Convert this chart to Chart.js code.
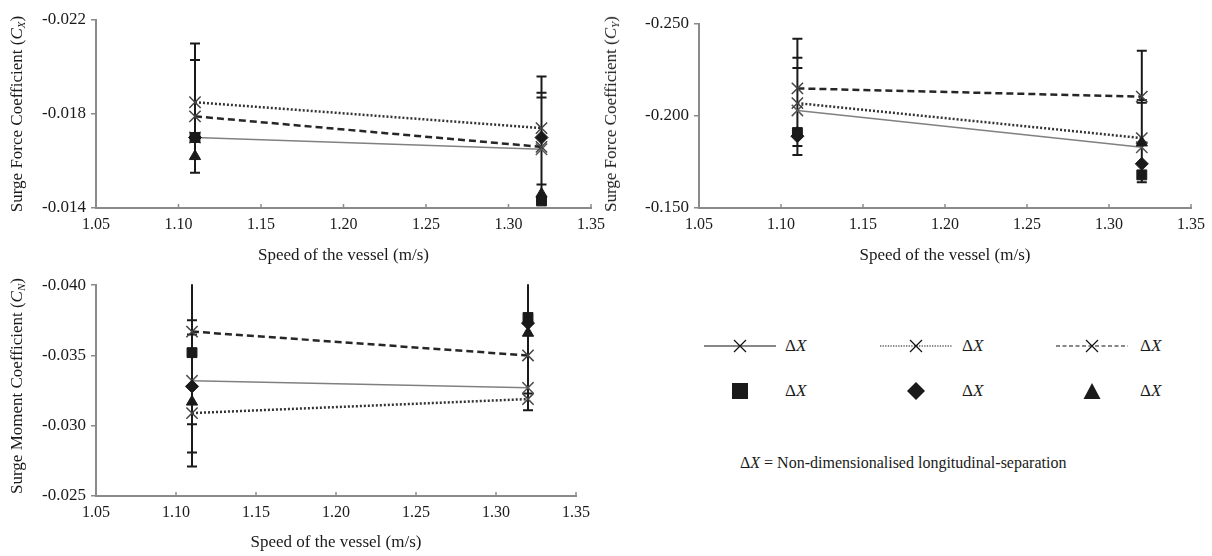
<!DOCTYPE html>
<html>
<head>
<meta charset="utf-8">
<script src="https://cdn.jsdelivr.net/npm/chart.js@4/dist/chart.umd.min.js"></script>
<style>
  html, body { margin: 0; padding: 0; background: #fff; }
  body { position: relative; width: 1212px; height: 556px; overflow: hidden;
         font-family: "Liberation Serif", "DejaVu Serif", serif; color: #1a1a1a; }
  canvas { position: absolute; }
  .ytitle { position: absolute; white-space: nowrap; font-size: 17px; line-height: 20px;
            transform: translate(-50%, -50%) rotate(-90deg); }
  .ytitle sub { font-size: 11px; vertical-align: -3px; line-height: 0; }
  .lg { position: absolute; white-space: nowrap; font-size: 17px; line-height: 20px; }
  .lgsym { position: absolute; }
</style>
</head>
<body>
<canvas id="cxChart" width="612" height="268" style="left:0;top:0"></canvas>
<canvas id="cyChart" width="612" height="268" style="left:600px;top:0"></canvas>
<canvas id="cnChart" width="612" height="286" style="left:0;top:270px"></canvas>

<div class="ytitle" style="left:17px;top:114px">Surge Force Coefficient (<i>C</i><sub><i>X</i></sub>)</div>
<div class="ytitle" style="left:611px;top:114px">Surge Force Coefficient (<i>C</i><sub><i>Y</i></sub>)</div>
<div class="ytitle" style="left:17px;top:386px">Surge Moment Coefficient (<i>C</i><sub><i>N</i></sub>)</div>

<div id="legend"></div>

<script>
// Vessel speeds (m/s) and axis tick values
const speeds = [1.11, 1.32];
const speedTicks = [1.05, 1.10, 1.15, 1.20, 1.25, 1.30, 1.35];

// Surge force coefficient C_X
const cxTicks = [-0.022, -0.018, -0.014];
const cxSolid = [-0.0170, -0.0165];
const cxDotted = [-0.0185, -0.0174];
const cxDashed = [-0.0179, -0.0166];
const cxSquare = [-0.0170, -0.0143];
const cxDiamond = [-0.0170, -0.0170];
const cxTriangle = [-0.0162, -0.0146];
const cxCapsLow = [-0.0210, -0.0203, -0.0155];
const cxCapsHigh = [-0.0196, -0.0189, -0.0187, -0.0150, -0.0143];

// Sway force coefficient C_Y
const cyTicks = [-0.250, -0.200, -0.150];
const cySolid = [-0.203, -0.183];
const cyDotted = [-0.207, -0.188];
const cyDashed = [-0.215, -0.2105];
const cySquare = [-0.191, -0.168];
const cyDiamond = [-0.189, -0.174];
const cyTriangle = [-0.191, -0.1855];
const cyCapsLow = [-0.242, -0.2317, -0.2261, -0.1837, -0.1788];
const cyCapsHigh = [-0.2355, -0.2087, -0.2072, -0.164];

// Yaw moment coefficient C_N
const cnTicks = [-0.040, -0.035, -0.030, -0.025];
const cnSolid = [-0.0332, -0.0327];
const cnDotted = [-0.0309, -0.0319];
const cnDashed = [-0.0367, -0.0350];
const cnSquare = [-0.0352, -0.0377];
const cnDiamond = [-0.0328, -0.0373];
const cnTriangle = [-0.0317, -0.0366];
const cnCapsLow = [-0.0405, -0.0375, -0.0365, -0.0301, -0.0281, -0.0271];
const cnCapsHigh = [-0.0405, -0.0323, -0.0311];

const FONT = '"Liberation Serif", "DejaVu Serif", serif';
const AXIS_GREY = '#8a8a8a';
const INK = '#1a1a1a';

// Vertical error bars: one shared stem per speed, with a cap at every bound
const errorBarPlugin = {
  id: 'errorBars',
  beforeDatasetsDraw(chart, args, opts) {
    const { ctx, chartArea: a, scales: { x, y } } = chart;
    ctx.save();
    ctx.beginPath();
    ctx.rect(a.left, a.top - 1, a.right - a.left, a.bottom - a.top + 1);
    ctx.clip();
    ctx.strokeStyle = INK;
    ctx.lineWidth = 2;
    for (const g of opts.groups) {
      const px = x.getPixelForValue(g.x);
      const ys = g.caps.map(v => y.getPixelForValue(v));
      ctx.beginPath();
      ctx.moveTo(px, Math.min(...ys));
      ctx.lineTo(px, Math.max(...ys));
      for (const py of ys) { ctx.moveTo(px - 5, py); ctx.lineTo(px + 5, py); }
      ctx.stroke();
    }
    ctx.restore();
  }
};

// Short inward tick marks along the speed axis
const innerTickPlugin = {
  id: 'innerTicks',
  afterDraw(chart) {
    const { ctx, scales: { x } } = chart;
    ctx.save();
    ctx.strokeStyle = AXIS_GREY;
    ctx.lineWidth = 1.5;
    ctx.beginPath();
    x.ticks.forEach((t, i) => {
      if (i === 0) return;
      const px = x.getPixelForValue(t.value);
      ctx.moveTo(px, x.top);
      ctx.lineTo(px, x.top - 4);
    });
    ctx.stroke();
    ctx.restore();
  }
};

const pts = vals => speeds.map((s, i) => ({ x: s, y: vals[i] }));

function buildDatasets(s) {
  return [
    { label: 'square', data: pts(s.square), pointStyle: 'rect', pointRadius: 7,
      backgroundColor: INK, borderColor: INK, pointBorderWidth: 1 },
    { label: 'diamond', data: pts(s.diamond), pointStyle: 'rectRot', pointRadius: 6.5,
      backgroundColor: INK, borderColor: INK, pointBorderWidth: 1 },
    { label: 'triangle', data: pts(s.triangle), pointStyle: 'triangle', pointRadius: 6.5,
      backgroundColor: INK, borderColor: INK, pointBorderWidth: 1 },
    { label: 'dashed', data: pts(s.dashed), showLine: true, borderColor: '#262626',
      borderWidth: 2.5, borderDash: [7, 4], pointStyle: 'crossRot', pointRadius: 8,
      pointBorderColor: '#444', pointBorderWidth: 1.5, pointBackgroundColor: 'transparent' },
    { label: 'dotted', data: pts(s.dotted), showLine: true, borderColor: '#333',
      borderWidth: 2.5, borderDash: [2, 2], pointStyle: 'crossRot', pointRadius: 8,
      pointBorderColor: '#444', pointBorderWidth: 1.5, pointBackgroundColor: 'transparent' },
    { label: 'solid', data: pts(s.solid), showLine: true, borderColor: '#808080',
      borderWidth: 1.5, pointStyle: 'crossRot', pointRadius: 8,
      pointBorderColor: '#555', pointBorderWidth: 1.5, pointBackgroundColor: 'transparent' }
  ];
}

function makeChart(id, s) {
  return new Chart(document.getElementById(id), {
    type: 'scatter',
    data: { datasets: buildDatasets(s) },
    plugins: [errorBarPlugin, innerTickPlugin],
    options: {
      responsive: false,
      animation: false,
      events: [],
      layout: { padding: s.padding },
      plugins: {
        legend: { display: false },
        tooltip: { enabled: false },
        errorBars: { groups: [{ x: speeds[0], caps: s.capsLow }, { x: speeds[1], caps: s.capsHigh }] }
      },
      scales: {
        x: {
          type: 'linear',
          min: speedTicks[0],
          max: speedTicks[speedTicks.length - 1],
          afterBuildTicks: sc => { sc.ticks = speedTicks.map(v => ({ value: v })); },
          afterFit: sc => { sc.height = s.xHeight; },
          grid: { display: false, drawTicks: false },
          border: { display: true, color: AXIS_GREY, width: 2 },
          ticks: { callback: v => v.toFixed(2), font: { family: FONT, size: 16 },
                   color: INK, padding: 7, maxRotation: 0, autoSkip: false },
          title: { display: true, text: 'Speed of the vessel (m/s)',
                   font: { family: FONT, size: 17 }, color: INK,
                   padding: { top: 0, bottom: s.titlePad } }
        },
        y: {
          type: 'linear',
          reverse: true,
          min: Math.min(...s.ticks),
          max: Math.max(...s.ticks),
          afterBuildTicks: sc => { sc.ticks = s.ticks.map(v => ({ value: v })); },
          afterFit: sc => { sc.width = s.yWidth; },
          grid: { drawOnChartArea: false, drawTicks: true, tickLength: 5,
                  color: AXIS_GREY, lineWidth: 1.5 },
          border: { display: true, color: AXIS_GREY, width: 2 },
          ticks: { callback: v => v.toFixed(3), font: { family: FONT, size: 17 },
                   color: INK, padding: 5, autoSkip: false },
          title: { display: false }
        }
      }
    }
  });
}

makeChart('cxChart', {
  ticks: cxTicks, solid: cxSolid, dotted: cxDotted, dashed: cxDashed,
  square: cxSquare, diamond: cxDiamond, triangle: cxTriangle,
  capsLow: cxCapsLow, capsHigh: cxCapsHigh,
  padding: { top: 20, right: 20, bottom: 0, left: 0 }, yWidth: 96, xHeight: 60, titlePad: 2
});

makeChart('cyChart', {
  ticks: cyTicks, solid: cySolid, dotted: cyDotted, dashed: cyDashed,
  square: cySquare, diamond: cyDiamond, triangle: cyTriangle,
  capsLow: cyCapsLow, capsHigh: cyCapsHigh,
  padding: { top: 24, right: 19, bottom: 0, left: 0 }, yWidth: 99, xHeight: 60, titlePad: 2
});

makeChart('cnChart', {
  ticks: cnTicks, solid: cnSolid, dotted: cnDotted, dashed: cnDashed,
  square: cnSquare, diamond: cnDiamond, triangle: cnTriangle,
  capsLow: cnCapsLow, capsHigh: cnCapsHigh,
  padding: { top: 13, right: 36, bottom: 0, left: 0 }, yWidth: 96, xHeight: 60, titlePad: 3
});

// Key: line styles (row 1), filled symbols (row 2), and the note beneath
const legendLabel = 'Δ<i>X</i>';
const legendCols = [
  { sym: 740, text: 785, dash: '' },
  { sym: 916, text: 962, dash: '1.3 1.3' },
  { sym: 1092, text: 1140, dash: '4 2.5' }
];
const legendShapes = ['square', 'diamond', 'triangle'];
const legendRows = [346, 391];
const noteRow = 463;

function svgEl(w, h, inner, left, top) {
  return `<svg class="lgsym" width="${w}" height="${h}" style="left:${left}px;top:${top}px" xmlns="http://www.w3.org/2000/svg">${inner}</svg>`;
}

let html = '';
legendCols.forEach((c, i) => {
  const cy = legendRows[0];
  const line = `<line x1="0" y1="8" x2="72" y2="8" stroke="#111" stroke-width="1.1"${c.dash ? ` stroke-dasharray="${c.dash}"` : ''}/>`;
  const cross = `<path d="M30 2 L42 14 M30 14 L42 2" stroke="#111" stroke-width="1.2" fill="none"/>`;
  html += svgEl(72, 16, line + cross, c.sym - 36, cy - 8);
  html += `<div class="lg" style="left:${c.text}px;top:${cy - 10}px">${legendLabel}</div>`;

  const ry = legendRows[1];
  let shape = '';
  if (legendShapes[i] === 'square') shape = `<rect x="1" y="1" width="16" height="16" fill="${INK}"/>`;
  if (legendShapes[i] === 'diamond') shape = `<path d="M9 0 L18 9 L9 18 L0 9 Z" fill="${INK}"/>`;
  if (legendShapes[i] === 'triangle') shape = `<path d="M9 1 L17.5 17 L0.5 17 Z" fill="${INK}"/>`;
  html += svgEl(18, 18, shape, c.sym - 9, ry - 9);
  html += `<div class="lg" style="left:${c.text}px;top:${ry - 10}px">${legendLabel}</div>`;
});
html += `<div class="lg" style="left:740px;top:${noteRow - 10}px;font-size:16px">Δ<i>X</i> = Non-dimensionalised longitudinal-separation</div>`;
document.getElementById('legend').innerHTML = html;
</script>
</body>
</html>
